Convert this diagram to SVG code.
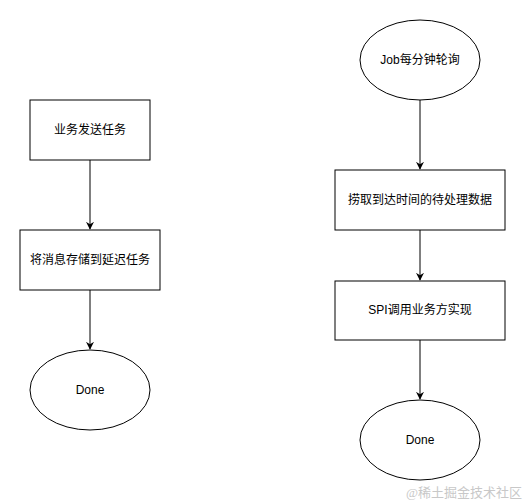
<svg xmlns="http://www.w3.org/2000/svg" width="526" height="501" viewBox="0 0 526 501">
<defs>
<marker id="arr" viewBox="0 0 10 10" refX="9" refY="5" markerWidth="8" markerHeight="8" markerUnits="userSpaceOnUse" orient="auto">
<path d="M0,0 L10,5 L0,10 L3,5 Z" fill="#000"/>
</marker>
<style>
.s{fill:#fff;stroke:#000;stroke-width:1}
.t{font-family:"Liberation Sans","Noto Sans CJK SC",sans-serif;font-size:12px;fill:#000;text-anchor:middle;dominant-baseline:central}
.c{stroke:#000;stroke-width:1;fill:none;marker-end:url(#arr)}
</style>
</defs>
<rect width="526" height="501" fill="#fff"/>
<g id="connectors">
<line class="c" x1="90" y1="160" x2="90" y2="229"/>
<line class="c" x1="90" y1="290" x2="90" y2="349"/>
<line class="c" x1="420" y1="100" x2="420" y2="169"/>
<line class="c" x1="420" y1="230" x2="420" y2="280"/>
<line class="c" x1="420" y1="340" x2="420" y2="399"/>
</g>
<g id="n1"><rect class="s" x="30" y="100" width="120" height="60"/><text class="t" x="90" y="130">业务发送任务</text></g>
<g id="n2"><rect class="s" x="20" y="230" width="140" height="60"/><text class="t" x="90" y="260">将消息存储到延迟任务</text></g>
<g id="n3"><ellipse class="s" cx="90" cy="390" rx="60" ry="40"/><text class="t" x="90" y="390">Done</text></g>
<g id="n4"><ellipse class="s" cx="420" cy="60" rx="60" ry="40"/><text class="t" x="420" y="60">Job每分钟轮询</text></g>
<g id="n5"><rect class="s" x="335" y="170" width="170" height="60"/><text class="t" x="420" y="200">捞取到达时间的待处理数据</text></g>
<g id="n6"><rect class="s" x="335" y="281" width="170" height="59"/><text class="t" x="420" y="310">SPI调用业务方实现</text></g>
<g id="n7"><ellipse class="s" cx="420" cy="440" rx="60" ry="40"/><text class="t" x="420" y="440">Done</text></g>
<text x="522" y="492" font-family="'Liberation Serif','Noto Sans CJK SC',serif" font-size="13" fill="#c8c8c8" text-anchor="end" dominant-baseline="central">@稀土掘金技术社区</text>
</svg>
